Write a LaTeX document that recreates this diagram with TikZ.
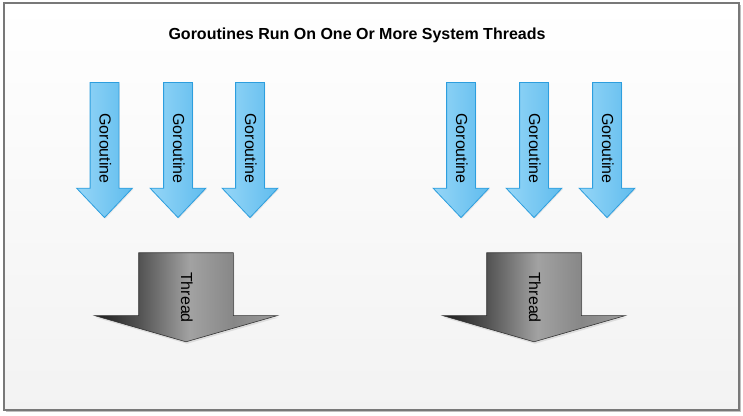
\documentclass[tikz,border=0pt]{standalone}
\usepackage{fontspec}
\setmainfont{Liberation Sans}
\usetikzlibrary{shapes.arrows,shadows}
\definecolor{panelline}{RGB}{120,120,120}
\definecolor{gofill}{RGB}{150,214,247}
\definecolor{gofilldark}{RGB}{95,188,238}
\definecolor{goline}{RGB}{45,158,222}
\definecolor{thA}{RGB}{28,28,28}
\definecolor{thB}{RGB}{82,82,82}
\definecolor{thC}{RGB}{162,162,162}
\definecolor{thD}{RGB}{135,135,135}
\definecolor{thE}{RGB}{155,155,155}
\pgfdeclarehorizontalshading{threadshade}{100bp}{
  color(0bp)=(thA); color(25bp)=(thA); color(37bp)=(thB);
  color(51bp)=(thC); color(63bp)=(thD); color(75bp)=(thE);
  color(100bp)=(thE)}
\tikzset{
  goroutine/.style={
    single arrow,
    rotate=-90,
    draw=goline,
    line width=0.8pt,
    left color=gofill,
    right color=gofilldark,
    text height=10pt,
    text depth=0pt,
    inner xsep=0pt,
    inner ysep=9pt,
    minimum height=135pt,
    single arrow head extend=13.5pt,
    single arrow tip angle=87,
    font=\fontsize{16}{19}\selectfont,
    execute at begin node=\hspace{12pt},
    drop shadow={opacity=0.15, shadow xshift=1pt, shadow yshift=-1pt}
  },
  thread/.style={
    single arrow,
    rotate=-90,
    draw=black!80,
    line width=0.6pt,
    shading=threadshade,
    text height=10pt,
    text depth=0pt,
    inner xsep=0pt,
    inner ysep=42pt,
    minimum height=89pt,
    single arrow head extend=44pt,
    single arrow tip angle=148,
    font=\fontsize{16}{19}\selectfont,
    execute at begin node=\hspace{14pt},
    drop shadow={opacity=0.2, shadow xshift=1pt, shadow yshift=-2pt}
  }
}

\begin{document}
\begin{tikzpicture}[x=1pt,y=-1pt]
  \useasboundingbox (0,0) rectangle (743,415);

  % panel
  \fill[black!25] (6,5) rectangle (741,412);
  \draw[panelline, line width=1.2pt, top color=white, bottom color=black!5]
    (4,3) rectangle (739,410);

  \node[font=\bfseries\fontsize{16}{19}\selectfont] (title) at (357,35)
    {Goroutines Run On One Or More System Threads};

  % left group
  \node[goroutine] (g1) at (104.5,142.5) {Goroutine};
  \node[goroutine] (g2) at (178,142.5) {Goroutine};
  \node[goroutine] (g3) at (250,142.5) {Goroutine};
  \node[thread] (t1) at (186,290.5) {Thread};

  % right group
  \node[goroutine] (g4) at (461,142.5) {Goroutine};
  \node[goroutine] (g5) at (534,142.5) {Goroutine};
  \node[goroutine] (g6) at (607,142.5) {Goroutine};
  \node[thread] (t2) at (534,290.5) {Thread};
\end{tikzpicture}
\end{document}
